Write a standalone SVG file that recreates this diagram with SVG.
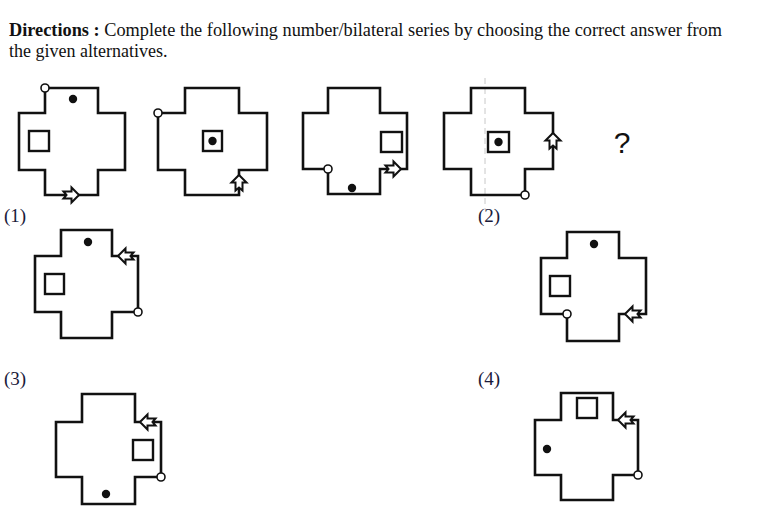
<svg xmlns="http://www.w3.org/2000/svg" width="775" height="515" viewBox="0 0 775 515">
<style>
.t{font-family:"Liberation Serif",serif;font-size:18px;fill:#111}
.b{font-weight:bold}
.cross{fill:none;stroke:#111;stroke-width:2.6;stroke-linejoin:miter}
.sq{fill:#fff;stroke:#111;stroke-width:2.4}
.dot{fill:#111}
.knob{fill:#fff;stroke:#111;stroke-width:1.6}
.arr{fill:#fff;stroke:#111;stroke-width:2;stroke-linejoin:miter}
.lbl{font-family:"Liberation Serif",serif;font-size:19px;fill:#1a1a3a}
</style>
<defs>
<polygon id="arrow" class="arr" points="0,-8 7.5,-0.5 3.5,-0.5 3.5,7.5 0,4.5 -3.5,7.5 -3.5,-0.5 -7.5,-0.5"/>
</defs>
<rect width="775" height="515" fill="#fff"/>
<g id="title">
<text class="t" x="9" y="36" textLength="713" lengthAdjust="spacingAndGlyphs"><tspan class="b">Directions :</tspan> Complete the following number/bilateral series by choosing the correct answer from</text>
<text class="t" x="9" y="57">the given alternatives.</text>
</g>
<g id="fig1">
<path class="cross" d="M45,88 H98 V113 H125 V170 H98 V195 H45 V170 H19 V113 H45 Z"/>
<circle class="dot" cx="73" cy="99" r="4.2"/>
<rect class="sq" x="29" y="131" width="20" height="20"/>
<use href="#arrow" transform="translate(71,195) rotate(90)"/>
<circle class="knob" cx="45" cy="88" r="4"/>
</g>
<g id="fig2">
<path class="cross" d="M185,88 H239 V113 H267 V170 H239 V195 H185 V170 H158 V113 H185 Z"/>
<rect class="sq" x="203" y="131" width="19" height="20"/>
<circle class="dot" cx="212.5" cy="141" r="4.2"/>
<use href="#arrow" transform="translate(239,183)"/>
<circle class="knob" cx="158" cy="113" r="4"/>
</g>
<g id="fig3">
<path class="cross" d="M328,88 H380 V113 H407 V169 H380 V194 H328 V169 H303 V113 H328 Z"/>
<circle class="dot" cx="352" cy="188" r="4.2"/>
<rect class="sq" x="381" y="132" width="21" height="20"/>
<use href="#arrow" transform="translate(393,169) rotate(90)"/>
<circle class="knob" cx="328" cy="169" r="4"/>
</g>
<g id="fig4">
<line x1="485" y1="78" x2="485" y2="210" stroke="#c8c8c8" stroke-width="1" stroke-dasharray="6,4"/>
<path class="cross" d="M471,88 H525 V113 H553 V169 H525 V195 H471 V169 H444 V113 H471 Z"/>
<rect class="sq" x="488" y="132" width="21" height="20"/>
<circle class="dot" cx="498.5" cy="142" r="4.2"/>
<use href="#arrow" transform="translate(553,141)"/>
<circle class="knob" cx="525" cy="195" r="4"/>
</g>
<g id="question">
<text x="622" y="153" text-anchor="middle" style="font-family:'Liberation Sans',sans-serif;font-size:30px;fill:#111">?</text>
</g>
<g id="opt1">
<text class="lbl" x="4" y="222">(1)</text>
<path class="cross" d="M61,230 H112 V256 H138 V312 H112 V338 H61 V312 H35 V256 H61 Z"/>
<circle class="dot" cx="88" cy="242" r="4.2"/>
<rect class="sq" x="45" y="274" width="19" height="20"/>
<use href="#arrow" transform="translate(126,256) rotate(-90)"/>
<circle class="knob" cx="138" cy="312" r="4"/>
</g>
<g id="opt2">
<text class="lbl" x="478" y="222">(2)</text>
<path class="cross" d="M567,232 H619 V258 H646 V314 H619 V341 H567 V314 H541 V258 H567 Z"/>
<circle class="dot" cx="594" cy="244" r="4.2"/>
<rect class="sq" x="550" y="276" width="20" height="20"/>
<use href="#arrow" transform="translate(633,314) rotate(-90)"/>
<circle class="knob" cx="567" cy="314" r="4"/>
</g>
<g id="opt3">
<text class="lbl" x="4" y="385">(3)</text>
<path class="cross" d="M82,394 H135 V422 H161 V477 H135 V504 H82 V477 H56 V422 H82 Z"/>
<circle class="dot" cx="106" cy="494" r="4.2"/>
<rect class="sq" x="133" y="440" width="20" height="20"/>
<use href="#arrow" transform="translate(148,422) rotate(-90)"/>
<circle class="knob" cx="161" cy="477" r="4"/>
</g>
<g id="opt4">
<text class="lbl" x="478" y="385">(4)</text>
<path class="cross" d="M561,393 H613 V420 H638 V475 H613 V500 H561 V475 H535 V420 H561 Z"/>
<circle class="dot" cx="547" cy="449" r="4.2"/>
<rect class="sq" x="577" y="398" width="20" height="20"/>
<use href="#arrow" transform="translate(626,420) rotate(-90)"/>
<circle class="knob" cx="638" cy="475" r="4"/>
</g>
</svg>
